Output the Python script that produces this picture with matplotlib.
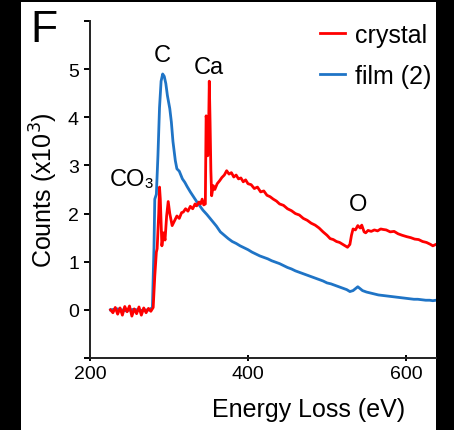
import matplotlib.pyplot as plt
from matplotlib.patches import Rectangle

plt.rcParams['font.family'] = ['Liberation Sans', 'DejaVu Sans']

# crystal spectrum (eV, counts x10^3)
crystal_ev = [226, 229, 232, 235, 238, 241, 244, 247, 250, 253, 256, 259, 262, 265,
              268, 271, 274, 277, 280, 282, 284, 285, 287, 288, 289, 291, 293, 295,
              297, 299, 301, 304, 307, 310, 313, 316, 318, 321, 324, 327, 330, 333,
              335, 338, 340, 342, 344, 346, 347, 348, 349, 350, 351, 352, 353, 354,
              356, 358, 361, 364, 367, 370, 373, 376, 379, 382, 385, 388, 391, 394,
              397, 400, 404, 408, 412, 416, 420, 424, 428, 432, 436, 440, 445, 450,
              455, 460, 465, 470, 475, 480, 485, 490, 495, 500, 504, 508, 512, 516,
              520, 523, 526, 529, 531, 533, 536, 539, 542, 544, 547, 549, 552, 556,
              560, 564, 568, 571, 575, 580, 585, 590, 595, 601, 606, 611, 616, 621,
              626, 631, 634, 638]
crystal_cts = [0.0, -0.06, 0.05, -0.09, 0.04, -0.11, 0.07, -0.04, 0.08, -0.13, 0.02, -0.08,
               0.06, -0.11, 0.04, -0.06, 0.03, -0.03, 0.05, 0.7, 1.2, 1.27, 2.0, 2.55,
               2.3, 1.33, 1.6, 1.45, 1.95, 2.25, 2.0, 1.75, 1.85, 1.95, 1.9, 2.02, 2.03,
               2.1, 2.05, 2.15, 2.1, 2.2, 2.16, 2.24, 2.2, 2.3, 2.18, 2.2, 4.03, 3.9,
               3.2, 3.6, 4.75, 3.9, 2.9, 2.37, 2.58, 2.5, 2.62, 2.68, 2.75, 2.8, 2.89,
               2.82, 2.85, 2.76, 2.8, 2.72, 2.74, 2.66, 2.7, 2.62, 2.6, 2.52, 2.55, 2.45,
               2.47, 2.38, 2.35, 2.3, 2.26, 2.2, 2.17, 2.1, 2.06, 2.0, 1.97, 1.9, 1.86,
               1.8, 1.76, 1.7, 1.62, 1.55, 1.48, 1.46, 1.42, 1.4, 1.36, 1.33, 1.3, 1.36,
               1.55, 1.68, 1.66, 1.75, 1.7, 1.76, 1.62, 1.6, 1.65, 1.63, 1.66, 1.64, 1.68,
               1.67, 1.66, 1.62, 1.63, 1.58, 1.55, 1.52, 1.5, 1.47, 1.46, 1.42, 1.4, 1.36,
               1.33, 1.36]

# film (2) spectrum
film_ev = [226, 235, 245, 255, 265, 275, 279, 281, 282, 284, 286, 288, 290, 292,
           294, 296, 298, 301, 303, 305, 308, 310, 313, 317, 320, 323, 327, 331,
           335, 339, 343, 348, 352, 356, 360, 365, 370, 375, 380, 385, 390, 395,
           400, 405, 410, 415, 420, 425, 430, 435, 440, 445, 450, 455, 460, 465,
           470, 475, 480, 485, 490, 495, 500, 505, 510, 515, 520, 525, 529, 533,
           536, 539, 542, 545, 550, 555, 560, 565, 570, 575, 580, 585, 590, 595,
           600, 605, 610, 615, 620, 625, 630, 634, 638]
film_cts = [0.0, 0.02, -0.02, 0.01, -0.01, 0.0, 0.05, 1.3, 2.3, 2.4, 3.2, 4.2, 4.75, 4.9,
            4.85, 4.7, 4.45, 4.18, 3.9, 3.5, 3.1, 2.93, 2.88, 2.72, 2.65, 2.56, 2.45,
            2.35, 2.25, 2.16, 2.07, 1.98, 1.9, 1.82, 1.74, 1.62, 1.55, 1.48, 1.42, 1.38,
            1.33, 1.29, 1.25, 1.2, 1.16, 1.12, 1.09, 1.06, 1.02, 0.99, 0.96, 0.92, 0.88,
            0.85, 0.81, 0.78, 0.75, 0.72, 0.69, 0.66, 0.63, 0.6, 0.56, 0.54, 0.51, 0.48,
            0.45, 0.42, 0.38, 0.4, 0.44, 0.48, 0.44, 0.4, 0.37, 0.35, 0.33, 0.31, 0.3,
            0.29, 0.28, 0.27, 0.26, 0.25, 0.24, 0.23, 0.22, 0.22, 0.21, 0.2, 0.2, 0.19,
            0.2]

# peak labels: (text, eV, counts)
peak_labels = [('C', 292, 5.3), ('Ca', 351, 5.05), ('CO\u2083', 254, 2.72), ('O', 539, 2.2)]

yticks = [-1, 0, 1, 2, 3, 4, 5, 6]
ytick_labels = ['', '0', '1', '2', '3', '4', '5', '']
xticks = [200, 400, 600]

fig = plt.figure(figsize=(4.54, 4.31), dpi=100, facecolor='black')
fig.patches.append(Rectangle((21 / 454, 0), (436 - 21) / 454, 428 / 431,
                             transform=fig.transFigure, facecolor='white',
                             edgecolor='none', zorder=-5))
ax = fig.add_axes([90 / 454, 1 - 359 / 431, (436 - 90) / 454, (359 - 22) / 431])
ax.set_zorder(2)
ax.set_facecolor('none')

ax.plot(film_ev, film_cts, color='#1f74c6', lw=2.0, label='film (2)', zorder=2)
ax.plot(crystal_ev, crystal_cts, color='#ff0000', lw=2.0, label='crystal', zorder=3)

ax.set_xlim(200, 638)
ax.set_ylim(-1, 6)
ax.set_xticks(xticks)
ax.set_yticks(yticks)
ax.set_yticklabels(ytick_labels)
for s in ['top', 'right']:
    ax.spines[s].set_visible(False)
for s in ['left', 'bottom']:
    ax.spines[s].set_linewidth(1.4)
    ax.spines[s].set_color('#222222')
ax.tick_params(axis='y', direction='out', length=4, width=1.4, labelsize=14, pad=4)
ax.tick_params(axis='x', direction='inout', length=4, width=1.4, labelsize=14, pad=3)

ax.set_xlabel('Energy Loss (eV)', fontsize=18)
ax.xaxis.set_label_coords(0.633, -0.115)
ax.set_ylabel('Counts (x10$^3$)', fontsize=18, labelpad=6)

for txt, ev, cts in peak_labels:
    ax.text(ev, cts, txt, fontsize=17, ha='center', va='center')
fig.text(44 / 454, 1 - 30 / 431, 'F', fontsize=32, ha='center', va='center', zorder=3)

handles, labels = ax.get_legend_handles_labels()
ax.legend(handles[::-1], labels[::-1], loc='upper left', bbox_to_anchor=(0.665, 0.995),
          borderaxespad=0, borderpad=0, frameon=False, fontsize=18, handlelength=1.0,
          handletextpad=0.4, labelspacing=0.7)

fig.savefig('out.png', dpi=100, facecolor='black')
